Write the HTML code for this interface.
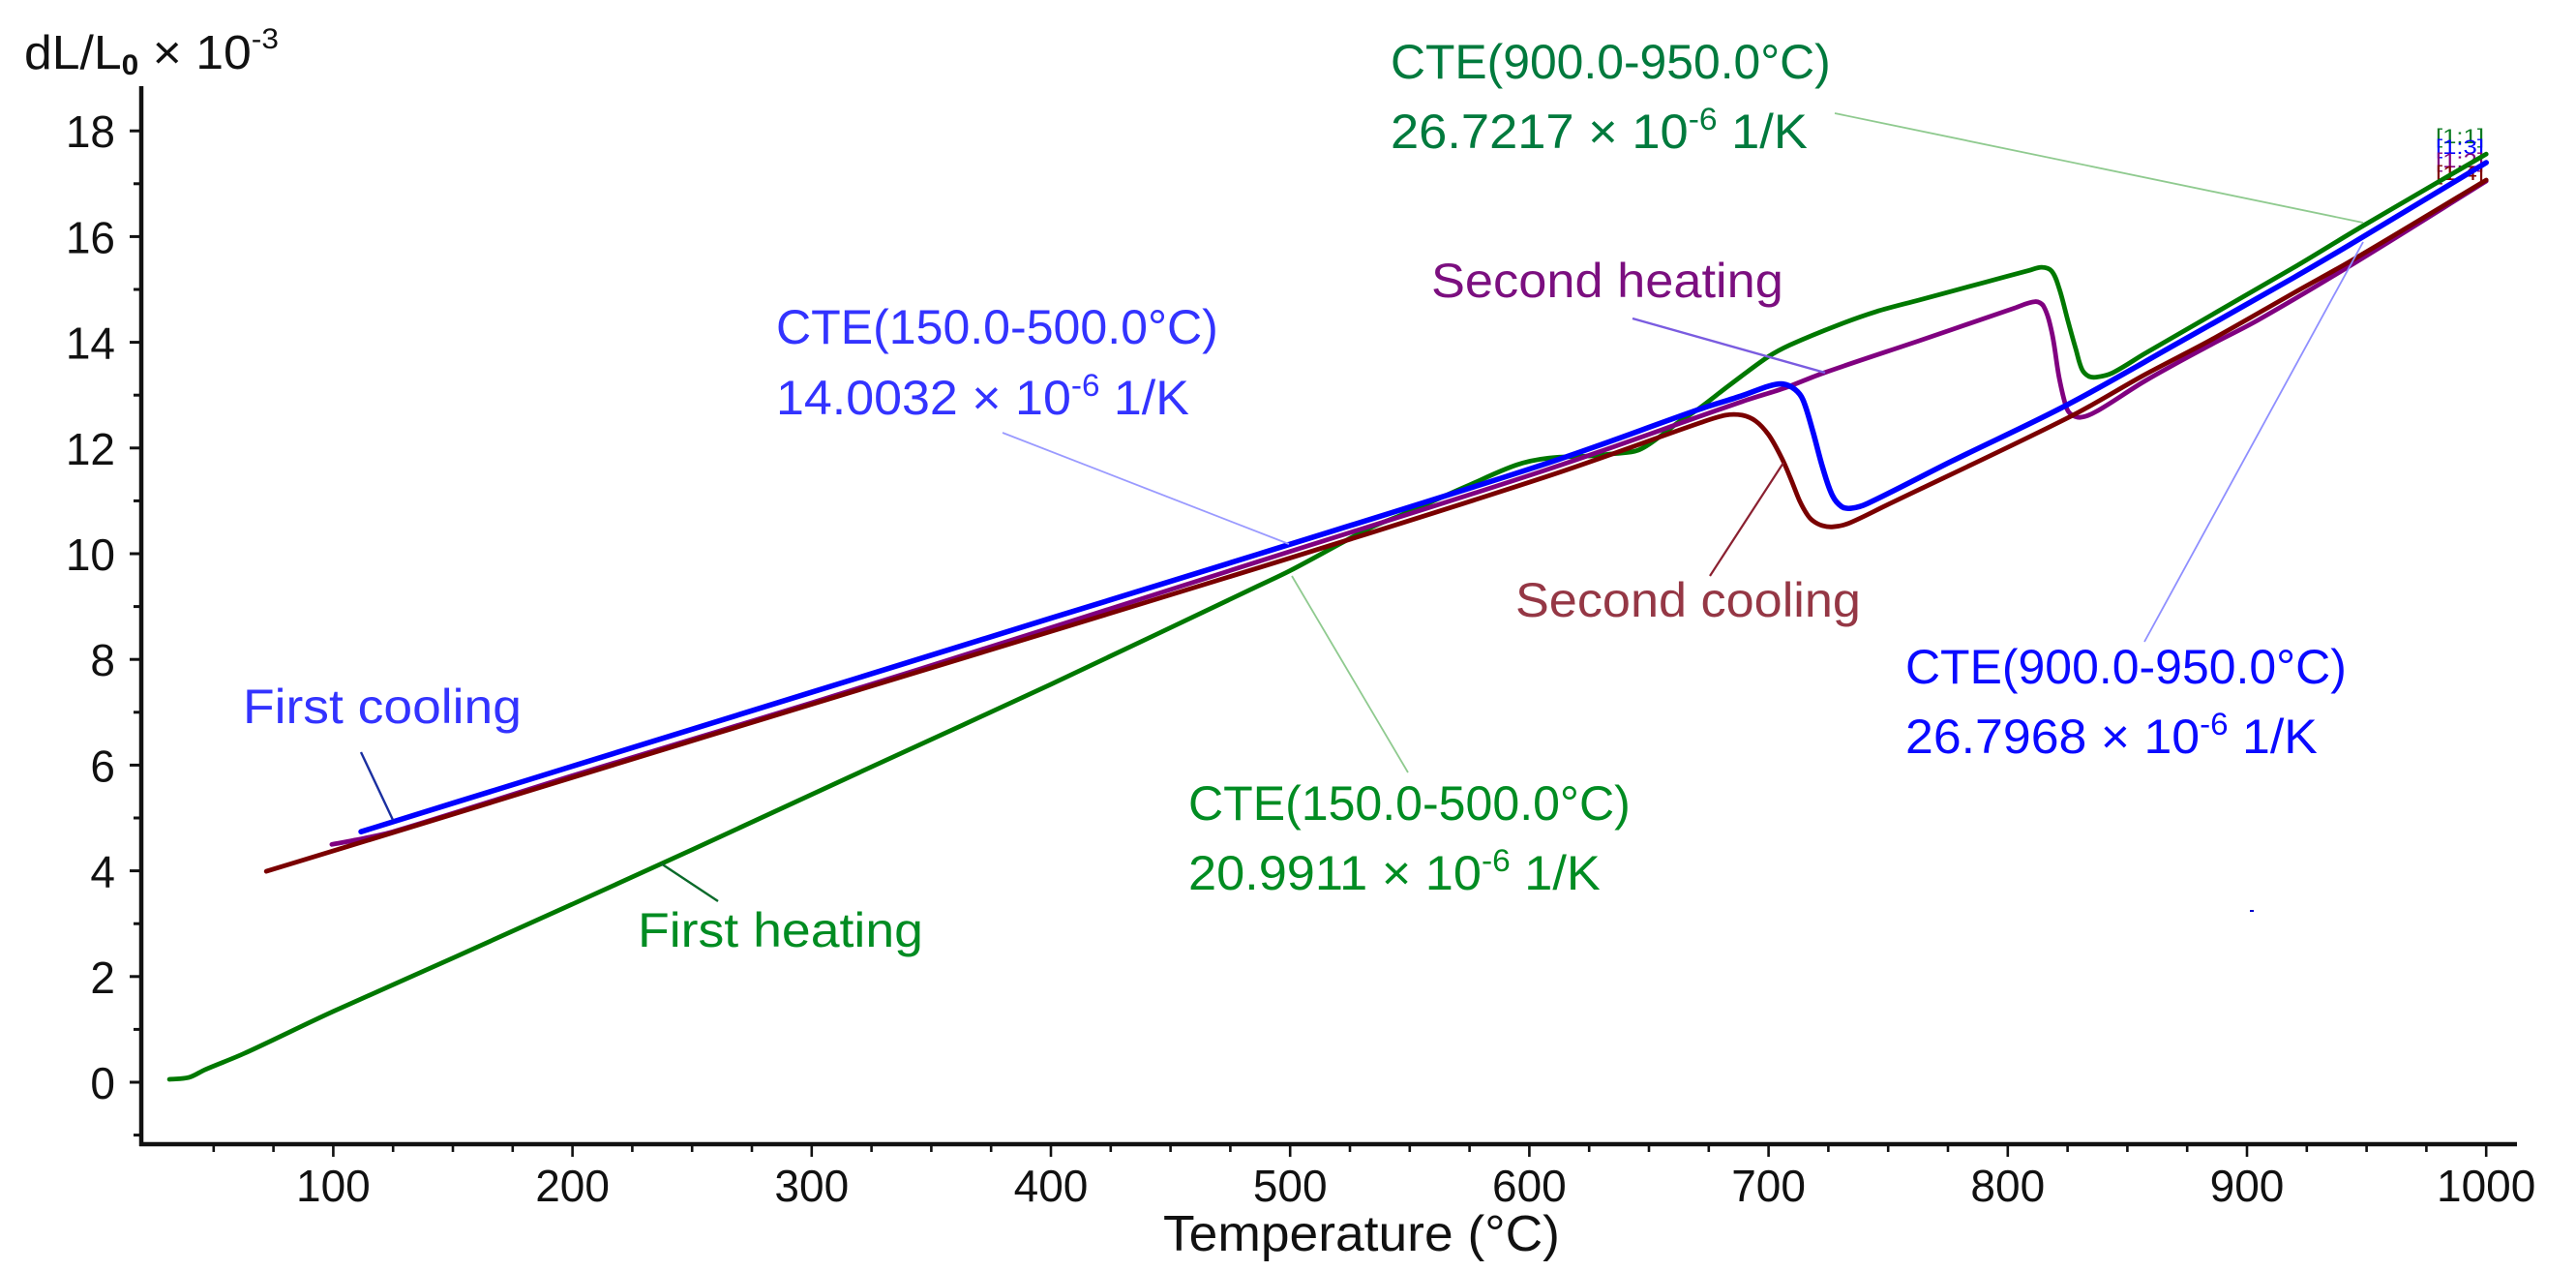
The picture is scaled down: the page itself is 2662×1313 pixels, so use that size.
<!DOCTYPE html>
<html lang="en">
<head>
<meta charset="utf-8">
<title>Dilatometry curves: dL/L0 vs temperature</title>
<style>
html,body{margin:0;padding:0;background:#fff;width:2662px;height:1313px;overflow:hidden}
svg{display:block}
text{font-family:"Liberation Sans",Arial,sans-serif}
.tick{font-size:46px;fill:#111}
.note{font-size:50px}
.sup{font-size:32px}
.gd{fill:#007a3d}.g{fill:#008c22}.b{fill:#3333ff}.b2{fill:#0a0aff}.p{fill:#7b0f7f}.r{fill:#953745}
.lead{fill:none}
</style>
</head>
<body>
<svg id="chart" xmlns="http://www.w3.org/2000/svg" width="2662" height="1313" viewBox="0 0 2662 1313">
  <rect x="0" y="0" width="2662" height="1313" fill="#fff"/>
  <g id="axes"></g>

  <g font-size="21">
    <text data-fit="50" x="2517" y="148" fill="#0a7a20">[1:1]</text>
    <text data-fit="50" x="2517" y="159" fill="#0000ff">[1:3]</text>
    <text data-fit="50" x="2517" y="173" fill="#800080">[1:2]</text>
    <text data-fit="50" x="2517" y="186" fill="#800000">[1:4]</text>
  </g>

  <g id="series"></g>

  <g class="lead" stroke-width="1.8">
    <line x1="1896" y1="117" x2="2442" y2="230" stroke="#8fca8f"/>
    <line x1="2442" y1="250" x2="2216" y2="663" stroke="#8f8fff"/>
    <line x1="1036" y1="447" x2="1332" y2="562" stroke="#9a9aff"/>
    <line x1="1335" y1="595" x2="1455" y2="798" stroke="#8fca8f"/>
    <line x1="1687" y1="329" x2="1886" y2="385" stroke="#7a5ce0" stroke-width="2.4"/>
    <line x1="1843" y1="478" x2="1767" y2="595" stroke="#8a2030" stroke-width="2.2"/>
    <line x1="373" y1="777" x2="406" y2="847" stroke="#1a2fa0" stroke-width="2.4"/>
    <line x1="683" y1="892" x2="742" y2="931" stroke="#0a6a2a" stroke-width="2.4"/>
    <line x1="2325" y1="941" x2="2329" y2="941" stroke="#0000cc" stroke-width="2"/>
  </g>

  <text data-fit="263" x="25" y="71" font-size="49" fill="#111">dL/L<tspan font-size="30" dy="6" font-weight="bold">0</tspan><tspan dy="-6"> × 10</tspan><tspan font-size="30" dy="-21">-3</tspan></text>
  <text data-fit="410" x="1202" y="1292" font-size="52" fill="#111">Temperature (°C)</text>

  <text class="note gd" data-fit="455" x="1437" y="81">CTE(900.0-950.0°C)</text>
  <text class="note gd" data-fit="431" x="1437" y="153">26.7217 × 10<tspan class="sup" dy="-19">-6</tspan><tspan dy="19"> 1/K</tspan></text>
  <text class="note p" data-fit="364" x="1479" y="307">Second heating</text>
  <text class="note b" data-fit="457" x="802" y="355">CTE(150.0-500.0°C)</text>
  <text class="note b" data-fit="427" x="802" y="428">14.0032 × 10<tspan class="sup" dy="-19">-6</tspan><tspan dy="19"> 1/K</tspan></text>
  <text class="note b" data-fit="288" x="251" y="747">First cooling</text>
  <text class="note g" data-fit="295" x="659" y="978">First heating</text>
  <text class="note r" data-fit="357" x="1566" y="637">Second cooling</text>
  <text class="note b2" data-fit="456" x="1969" y="706">CTE(900.0-950.0°C)</text>
  <text class="note b2" data-fit="426" x="1969" y="778">26.7968 × 10<tspan class="sup" dy="-19">-6</tspan><tspan dy="19"> 1/K</tspan></text>
  <text class="note g" data-fit="457" x="1228" y="847">CTE(150.0-500.0°C)</text>
  <text class="note g" data-fit="426" x="1228" y="919">20.9911 × 10<tspan class="sup" dy="-19">-6</tspan><tspan dy="19"> 1/K</tspan></text>
</svg>

<script>
// Chart data
const xTickLabels = [100, 200, 300, 400, 500, 600, 700, 800, 900, 1000];
const xMinorTicks = [50, 75, 125, 150, 175, 225, 250, 275, 325, 350, 375, 425, 450, 475, 525, 550, 575, 625, 650, 675, 725, 750, 775, 825, 850, 875, 925, 950, 975];
const yTickLabels = [0, 2, 4, 6, 8, 10, 12, 14, 16, 18];
const yMinorTicks = [-1, 1, 3, 5, 7, 9, 11, 13, 15, 17];

const firstHeatingT = [31.5, 39.6, 46.5, 63, 100, 150, 200, 250, 316, 400, 486.6, 500, 534, 547, 574, 594.6, 608, 625.5, 635, 645.6, 655, 661.8, 671, 684, 700, 709, 729.3, 745, 763, 790, 809, 814.2, 818.3, 821.5, 825, 828.4, 831, 833.7, 837, 843.7, 857.4, 919.4, 948.4, 1000];
const firstHeatingV = [0.055, 0.09, 0.24, 0.55, 1.34, 2.35, 3.37, 4.4, 5.78, 7.53, 9.39, 9.68, 10.5, 10.74, 11.28, 11.68, 11.81, 11.85, 11.89, 11.96, 12.23, 12.47, 12.75, 13.2, 13.73, 13.95, 14.33, 14.58, 14.8, 15.13, 15.36, 15.42, 15.35, 15.02, 14.43, 13.88, 13.49, 13.36, 13.34, 13.42, 13.79, 15.41, 16.2, 17.56];

const secondHeatingT = [99.4, 109, 125, 200, 300, 400, 486.6, 608, 689, 707, 723, 763, 803, 811.5, 815, 818.4, 821.5, 824.4, 826.4, 830.4, 837, 857.4, 884.3, 904.6, 945, 1000];
const secondHeatingV = [4.5, 4.58, 4.74, 5.8, 7.18, 8.6, 9.85, 11.6, 12.88, 13.14, 13.42, 14.03, 14.65, 14.77, 14.68, 14.19, 13.33, 12.78, 12.64, 12.58, 12.69, 13.27, 13.94, 14.42, 15.5, 17.05];

const secondCoolingT = [72, 150, 250, 350, 486.6, 608, 671, 682, 689, 694.6, 700, 705.4, 709, 713, 716, 718.6, 722.6, 727, 733.2, 749.4, 826.4, 857.4, 884.3, 919.4, 945, 1000];
const secondCoolingV = [3.99, 5.07, 6.46, 7.84, 9.73, 11.47, 12.47, 12.62, 12.62, 12.51, 12.25, 11.82, 11.45, 11.0, 10.75, 10.62, 10.53, 10.51, 10.57, 10.92, 12.6, 13.39, 14.03, 14.93, 15.58, 17.07];

const firstCoolingT = [111.6, 200, 300, 400, 486.6, 608, 671, 689, 700, 706, 711, 714.4, 718.6, 722.6, 726.7, 730.6, 734.7, 741.4, 776.6, 825, 870.9, 919.4, 945, 1000];
const firstCoolingV = [4.74, 5.98, 7.38, 8.78, 9.99, 11.72, 12.73, 12.99, 13.17, 13.21, 13.11, 12.91, 12.3, 11.63, 11.1, 10.89, 10.86, 10.95, 11.75, 12.82, 13.98, 15.22, 15.9, 17.4];

const SVG_NS = 'http://www.w3.org/2000/svg';

// Axis functions
function xScale(t) { return 344.4 + (t - 100) * 2.472; }
function yScale(v) { return 1118 - 54.6 * v; }

function makeNode(tag) { return document.createElementNS(SVG_NS, tag); }

function linePath(ts, vs) {
  const pts = ts.map(function (t, i) { return [xScale(t), yScale(vs[i])]; });
  let d = 'M' + pts[0][0].toFixed(1) + ' ' + pts[0][1].toFixed(1);
  function tangent(i) {
    const a = pts[Math.max(i - 1, 0)], b = pts[Math.min(i + 1, pts.length - 1)];
    const dx = b[0] - a[0], dy = b[1] - a[1], n = Math.hypot(dx, dy) || 1;
    return [dx / n, dy / n];
  }
  for (let i = 0; i < pts.length - 1; i++) {
    const p = pts[i], q = pts[i + 1];
    const len = Math.hypot(q[0] - p[0], q[1] - p[1]) / 3;
    const t0 = tangent(i), t1 = tangent(i + 1);
    d += 'C' + (p[0] + t0[0] * len).toFixed(1) + ' ' + (p[1] + t0[1] * len).toFixed(1) + ' ' +
         (q[0] - t1[0] * len).toFixed(1) + ' ' + (q[1] - t1[1] * len).toFixed(1) + ' ' +
         q[0].toFixed(1) + ' ' + q[1].toFixed(1);
  }
  return d;
}

const axes = document.getElementById('axes');
const seriesGroup = document.getElementById('series');

// Axis lines
const xAxisLine = makeNode('line');


xAxisLine.setAttribute('x1', 144);
xAxisLine.setAttribute('x2', 2601);
xAxisLine.setAttribute('y1', 1182);
xAxisLine.setAttribute('y2', 1182);
xAxisLine.setAttribute('stroke', '#111');
xAxisLine.setAttribute('stroke-width', 4.5);
axes.appendChild(xAxisLine);

const yAxisLine = makeNode('line');


yAxisLine.setAttribute('x1', 146);
yAxisLine.setAttribute('x2', 146);
yAxisLine.setAttribute('y1', 89);
yAxisLine.setAttribute('y2', 1184);
yAxisLine.setAttribute('stroke', '#111');
yAxisLine.setAttribute('stroke-width', 4.5);
axes.appendChild(yAxisLine);

// X ticks
xTickLabels.forEach(function (t) {
  const tick = makeNode('line');
  
  
  tick.setAttribute('x1', xScale(t));
  tick.setAttribute('x2', xScale(t));
  tick.setAttribute('y1', 1182);
  tick.setAttribute('y2', 1195);
  tick.setAttribute('stroke', '#111');
  tick.setAttribute('stroke-width', 2.6);
  axes.appendChild(tick);
  const label = makeNode('text');
  
  
  label.setAttribute('class', 'tick');
  label.setAttribute('x', xScale(t));
  label.setAttribute('y', 1241);
  label.setAttribute('text-anchor', 'middle');
  label.textContent = String(t);
  axes.appendChild(label);
});
xMinorTicks.forEach(function (t) {
  const tick = makeNode('line');
  
  
  tick.setAttribute('x1', xScale(t));
  tick.setAttribute('x2', xScale(t));
  tick.setAttribute('y1', 1182);
  tick.setAttribute('y2', 1190);
  tick.setAttribute('stroke', '#111');
  tick.setAttribute('stroke-width', 2.6);
  axes.appendChild(tick);
});

// Y ticks
yTickLabels.forEach(function (v) {
  const tick = makeNode('line');
  
  
  tick.setAttribute('x1', 134);
  tick.setAttribute('x2', 146);
  tick.setAttribute('y1', yScale(v));
  tick.setAttribute('y2', yScale(v));
  tick.setAttribute('stroke', '#111');
  tick.setAttribute('stroke-width', 3);
  axes.appendChild(tick);
  const label = makeNode('text');
  
  
  label.setAttribute('class', 'tick');
  label.setAttribute('x', 119);
  label.setAttribute('y', yScale(v) + 17);
  label.setAttribute('text-anchor', 'end');
  label.textContent = String(v);
  axes.appendChild(label);
});
yMinorTicks.forEach(function (v) {
  const tick = makeNode('line');
  
  
  tick.setAttribute('x1', 138);
  tick.setAttribute('x2', 146);
  tick.setAttribute('y1', yScale(v));
  tick.setAttribute('y2', yScale(v));
  tick.setAttribute('stroke', '#111');
  tick.setAttribute('stroke-width', 3);
  axes.appendChild(tick);
});

// Series, in stacking order
const firstHeatingLine = makeNode('path');


firstHeatingLine.setAttribute('d', linePath(firstHeatingT, firstHeatingV));
firstHeatingLine.setAttribute('fill', 'none');
firstHeatingLine.setAttribute('stroke', '#007800');
firstHeatingLine.setAttribute('stroke-width', 4.8);
firstHeatingLine.setAttribute('stroke-linejoin', 'round');
firstHeatingLine.setAttribute('stroke-linecap', 'round');
seriesGroup.appendChild(firstHeatingLine);

const secondHeatingLine = makeNode('path');


secondHeatingLine.setAttribute('d', linePath(secondHeatingT, secondHeatingV));
secondHeatingLine.setAttribute('fill', 'none');
secondHeatingLine.setAttribute('stroke', '#800080');
secondHeatingLine.setAttribute('stroke-width', 4.8);
secondHeatingLine.setAttribute('stroke-linejoin', 'round');
secondHeatingLine.setAttribute('stroke-linecap', 'round');
seriesGroup.appendChild(secondHeatingLine);

const secondCoolingLine = makeNode('path');


secondCoolingLine.setAttribute('d', linePath(secondCoolingT, secondCoolingV));
secondCoolingLine.setAttribute('fill', 'none');
secondCoolingLine.setAttribute('stroke', '#7a0000');
secondCoolingLine.setAttribute('stroke-width', 4.8);
secondCoolingLine.setAttribute('stroke-linejoin', 'round');
secondCoolingLine.setAttribute('stroke-linecap', 'round');
seriesGroup.appendChild(secondCoolingLine);

const firstCoolingLine = makeNode('path');


firstCoolingLine.setAttribute('d', linePath(firstCoolingT, firstCoolingV));
firstCoolingLine.setAttribute('fill', 'none');
firstCoolingLine.setAttribute('stroke', '#0000ff');
firstCoolingLine.setAttribute('stroke-width', 5.6);
firstCoolingLine.setAttribute('stroke-linejoin', 'round');
firstCoolingLine.setAttribute('stroke-linecap', 'round');
seriesGroup.appendChild(firstCoolingLine);

// Squeeze annotation text to the measured widths of the original typeface
document.querySelectorAll('text[data-fit]').forEach(function (el) {
  const want = parseFloat(el.getAttribute('data-fit'));
  const have = el.getComputedTextLength();
  const x = parseFloat(el.getAttribute('x'));
  const k = want / have;
  el.setAttribute('transform', 'translate(' + x + ' 0) scale(' + k.toFixed(4) + ' 1) translate(' + (-x) + ' 0)');
});
</script>
</body>
</html>
